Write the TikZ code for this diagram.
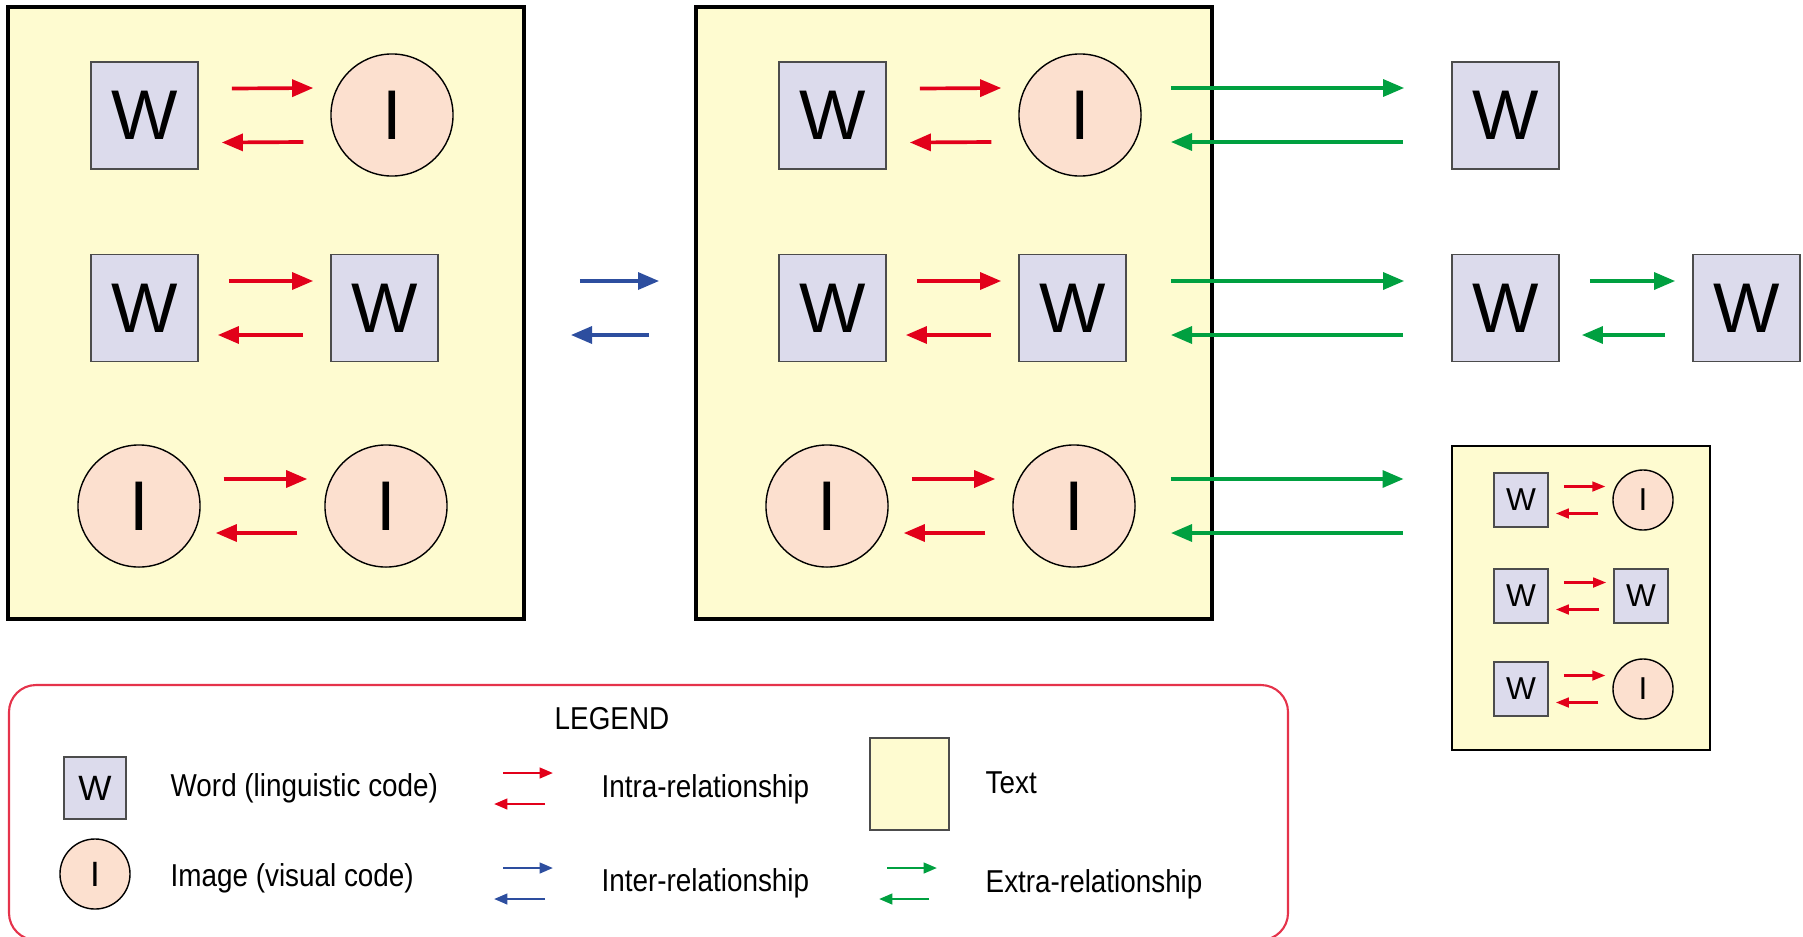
\documentclass[tikz,border=0pt]{standalone}
\usepackage{fontspec}
\setmainfont{Liberation Sans}
\newfontfamily\condfont{Liberation Sans}[FakeStretch=0.88]
\usetikzlibrary{arrows.meta,calc}
\definecolor{txtyellow}{HTML}{FEFBD0}
\definecolor{wfill}{HTML}{DCDBEC}
\definecolor{ifill}{HTML}{FCE0CF}
\definecolor{relred}{HTML}{E2001A}
\definecolor{relblue}{HTML}{2D4E9F}
\definecolor{relgreen}{HTML}{00A040}
\definecolor{legred}{HTML}{E5334B}
\tikzset{
  tbox/.style={draw=black, line width=1pt, fill=txtyellow, inner sep=0},
  wbig/.style={draw=black!70, line width=0.45pt, fill=wfill, minimum size=1.07cm, inner sep=0, font=\fontsize{20}{24}\selectfont},
  ibig/.style={circle, draw=black, line width=0.4pt, fill=ifill, minimum size=1.22cm, inner sep=0, font=\fontsize{20}{24}\selectfont},
  wsmall/.style={wbig, line width=0.5pt, minimum size=0.54cm, font=\fontsize{9}{11}\selectfont},
  ismall/.style={ibig, minimum size=0.60cm, font=\fontsize{9}{11}\selectfont},
  wleg/.style={wbig, minimum size=0.62cm, font=\fontsize{10}{12}\selectfont},
  ileg/.style={ibig, minimum size=0.70cm, font=\fontsize{10}{12}\selectfont},
  relarr/.style={line width=1.05pt, -{Triangle[length=6pt,width=4.8pt]}},
  smallarr/.style={line width=0.62pt, -{Triangle[length=3.7pt,width=2.8pt]}},
  legarr/.style={line width=0.7pt, -{Triangle[length=3.8pt,width=3pt]}},
  legtext/.style={anchor=base west, inner sep=0, font=\condfont\fontsize{9}{11}\selectfont},
}
% #1 left node, #2 right node, #3 colour, #4 tail gap of right arrow, #5 tip gap of left arrow
\newcommand\bigpair[5]{%
  \draw[relarr,#3] ($(#1.east)+(#4,-27)$) -- ($(#2.west)+(-17,-27)$);
  \draw[relarr,#3] ($(#2.west)+(-27,27)$) -- ($(#1.east)+(#5,27)$);}
\newcommand\smallpair[2]{%
  \draw[smallarr,relred] ($(#1.east)+(15,-13.5)$) -- ($(#2.west)+(-7,-13.5)$);
  \draw[smallarr,relred] ($(#2.west)+(-14,13.5)$) -- ($(#1.east)+(7,13.5)$);}
\begin{document}
\begin{tikzpicture}[x=0.01cm,y=-0.01cm]
\useasboundingbox (0,0) rectangle (1803,936);
\clip (0,0) rectangle (1803,936);
% text boxes
\node[tbox, minimum width=5.16cm, minimum height=6.12cm] (box1) at (266,313) {};
\node[tbox, minimum width=5.16cm, minimum height=6.12cm] (box2) at (954,313) {};
\node[tbox, line width=0.75pt, minimum width=2.58cm, minimum height=3.04cm] (box3) at (1581,598) {};
% box 1
\node[wbig] (a1) at (144.5,115.5) {W};
\node[ibig] (a2) at (392,115) {I};
\node[wbig] (a3) at (144.5,308) {W};
\node[wbig] (a4) at (384.5,308) {W};
\node[ibig] (a5) at (139,506) {I};
\node[ibig] (a6) at (386,506) {I};
% box 2
\node[wbig] (b1) at (832.5,115.5) {W};
\node[ibig] (b2) at (1080,115) {I};
\node[wbig] (b3) at (832.5,308) {W};
\node[wbig] (b4) at (1072.5,308) {W};
\node[ibig] (b5) at (827,506) {I};
\node[ibig] (b6) at (1074,506) {I};
% right column
\node[wbig] (r1) at (1505.5,115.5) {W};
\node[wbig] (r2) at (1505.5,308) {W};
\node[wbig] (r3) at (1746.5,308) {W};
% small box
\node[wsmall] (s1) at (1521,500) {W};
\node[ismall] (s2) at (1643,500) {I};
\node[wsmall] (s3) at (1521,596) {W};
\node[wsmall] (s4) at (1641,596) {W};
\node[wsmall] (s5) at (1521,689) {W};
\node[ismall] (s6) at (1643,689) {I};
% intra arrows
\bigpair{a1}{a2}{relred}{33}{23}
\bigpair{a3}{a4}{relred}{30}{19}
\bigpair{a5}{a6}{relred}{23}{15}
\bigpair{b1}{b2}{relred}{33}{23}
\bigpair{b3}{b4}{relred}{30}{19}
\bigpair{b5}{b6}{relred}{23}{15}
\smallpair{s1}{s2}
\smallpair{s3}{s4}
\smallpair{s5}{s6}
% inter arrows
\draw[relarr,relblue] ($(box1.east |- a4)+(54,-27)$) -- ($(box2.west |- a4)+(-35,-27)$);
\draw[relarr,relblue] ($(box2.west |- a4)+(-45,27)$) -- ($(box1.east |- a4)+(45,27)$);
% extra arrows
\draw[relarr,relgreen] ($(box2.east |- b2)+(-43,-27)$) -- ($(r1.west |- b2)+(-47,-27)$);
\draw[relarr,relgreen] ($(r1.west |- b2)+(-48,27)$) -- ($(box2.east |- b2)+(-43,27)$);
\draw[relarr,relgreen] ($(box2.east |- b4)+(-43,-27)$) -- ($(r2.west |- b4)+(-47,-27)$);
\draw[relarr,relgreen] ($(r2.west |- b4)+(-48,27)$) -- ($(box2.east |- b4)+(-43,27)$);
\draw[relarr,relgreen] ($(box2.east |- b6)+(-43,-27)$) -- ($(box3.west |- b6)+(-47,-27)$);
\draw[relarr,relgreen] ($(box3.west |- b6)+(-48,27)$) -- ($(box2.east |- b6)+(-43,27)$);
\bigpair{r2}{r3}{relgreen}{30}{22}
% legend
\draw[legred, line width=0.6pt, rounded corners=0.27cm] (9,685) rectangle (1288,940);
\node[inner sep=0, anchor=base, font=\condfont\fontsize{9}{11}\selectfont] (legtitle) at (612,729) {LEGEND};
\node[wleg] (lw) at (95,788) {W};
\node[ileg] (li) at (95,874) {I};
\node[legtext] (lwt) at (170,796) {Word (linguistic code)};
\node[legtext] (lit) at (170,886) {Image (visual code)};
\node[legtext] (intra) at (601,797) {Intra-relationship};
\node[legtext] (inter) at (601,891) {Inter-relationship};
\node[draw=black!70, line width=0.45pt, fill=txtyellow, minimum width=0.79cm, minimum height=0.92cm, inner sep=0] (lt) at (909.5,784) {};
\node[legtext] (ltt) at (985,793) {Text};
\node[legtext] (extra) at (985,892) {Extra-relationship};
\coordinate (lr1) at (503,773); \coordinate (lr2) at (553,773);
\coordinate (lr3) at (545,804); \coordinate (lr4) at (494,804);
\coordinate (lb1) at (503,868); \coordinate (lb2) at (553,868);
\coordinate (lb3) at (545,899); \coordinate (lb4) at (494,899);
\coordinate (lg1) at (887,868); \coordinate (lg2) at (937,868);
\coordinate (lg3) at (929,899); \coordinate (lg4) at (879,899);
\draw[legarr,relred] (lr1) -- (lr2);
\draw[legarr,relred] (lr3) -- (lr4);
\draw[legarr,relblue] (lb1) -- (lb2);
\draw[legarr,relblue] (lb3) -- (lb4);
\draw[legarr,relgreen] (lg1) -- (lg2);
\draw[legarr,relgreen] (lg3) -- (lg4);
\end{tikzpicture}
\end{document}
